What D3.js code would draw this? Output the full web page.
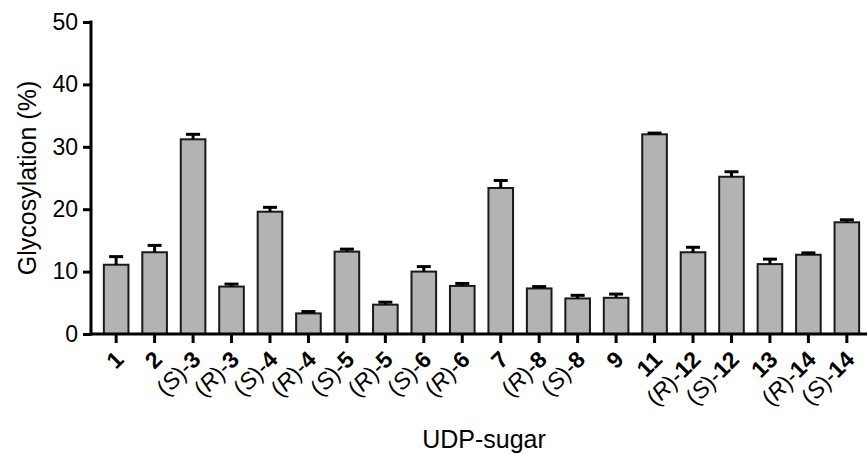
<!DOCTYPE html>
<html>
<head>
<meta charset="utf-8">
<script src="https://cdn.jsdelivr.net/npm/d3@7"></script>
<style>
  body { margin: 0; background: #fff; }
  svg { display: block; font-family: "Liberation Sans", Arial, sans-serif; }
</style>
</head>
<body>
<svg id="chart"></svg>
<script>
// compound label parts: prefix stereo descriptor (or none) + compound number
const stereo = ['', '', 'S', 'R', 'S', 'R', 'S', 'R', 'S', 'R', '', 'R', 'S', '', '', 'R', 'S', '', 'R', 'S'];
const compound = ['1', '2', '3', '3', '4', '4', '5', '5', '6', '6', '7', '8', '8', '9', '11', '12', '12', '13', '14', '14'];
const glycosylation = [11.1, 13.1, 31.2, 7.6, 19.6, 3.3, 13.2, 4.7, 10.0, 7.7, 23.4, 7.3, 5.7, 5.8, 32.0, 13.1, 25.2, 11.2, 12.7, 17.9];
const errorUp = [1.3, 1.1, 0.8, 0.4, 0.7, 0.3, 0.4, 0.4, 0.8, 0.4, 1.2, 0.3, 0.5, 0.6, 0.2, 0.8, 0.8, 0.8, 0.3, 0.4];
const yTicks = [0, 10, 20, 30, 40, 50];

const width = 867;
const height = 454;
const margin = { top: 22, right: 0, bottom: 120, left: 91 };
const baseY = 334;

const data = compound.map((c, i) => ({
  key: i,
  stereo: stereo[i],
  num: c,
  value: glycosylation[i],
  err: errorUp[i],
}));

const svg = d3.select('#chart')
  .attr('width', width)
  .attr('height', height);

const x = d3.scaleBand()
  .domain(data.map(d => d.key))
  .range([margin.left - 1, 873])
  .paddingInner(0.36)
  .paddingOuter(0.36);

const y = d3.scaleLinear()
  .domain([0, 50])
  .range([baseY, margin.top]);

// bars
svg.append('g').selectAll('rect')
  .data(data)
  .enter().append('rect')
  .attr('x', d => x(d.key))
  .attr('y', d => y(d.value))
  .attr('width', x.bandwidth())
  .attr('height', d => y(0) - y(d.value))
  .attr('fill', '#b3b3b3')
  .attr('stroke', '#1a1a1a')
  .attr('stroke-width', 2);

// error bars (upper only)
const err = svg.append('g')
  .attr('stroke', '#000')
  .attr('stroke-width', 3);
err.selectAll('.stem')
  .data(data)
  .enter().append('line')
  .attr('class', 'stem')
  .attr('x1', d => x(d.key) + x.bandwidth() / 2)
  .attr('x2', d => x(d.key) + x.bandwidth() / 2)
  .attr('y1', d => y(d.value))
  .attr('y2', d => y(d.value + d.err));
err.selectAll('.cap')
  .data(data)
  .enter().append('line')
  .attr('class', 'cap')
  .attr('x1', d => x(d.key) + x.bandwidth() / 2 - 7)
  .attr('x2', d => x(d.key) + x.bandwidth() / 2 + 7)
  .attr('y1', d => y(d.value + d.err))
  .attr('y2', d => y(d.value + d.err));

// y axis
const yAxis = d3.axisLeft(y)
  .tickValues(yTicks)
  .tickSize(8)
  .tickPadding(5);
const gy = svg.append('g')
  .attr('transform', `translate(${margin.left},0)`)
  .call(yAxis);
gy.select('.domain')
  .attr('d', `M0,${y(50) - 1.5}V${baseY + 1.5}`)
  .attr('stroke-width', 3);
gy.selectAll('.tick line').attr('stroke-width', 3);
gy.selectAll('.tick text')
  .attr('font-size', 23)
  .attr('font-family', '"Liberation Sans", Arial, sans-serif')
  .attr('fill', '#000');

// x axis
const xAxis = d3.axisBottom(x)
  .tickSize(9)
  .tickFormat('');
const gx = svg.append('g')
  .attr('transform', `translate(0,${baseY})`)
  .call(xAxis);
gx.select('.domain')
  .attr('d', `M${margin.left - 1.5},0H${width}`)
  .attr('stroke-width', 3);
gx.selectAll('.tick line').attr('stroke-width', 3);

// rotated category labels
const labels = gx.selectAll('.tick')
  .append('text')
  .attr('text-anchor', 'end')
  .attr('fill', '#000')
  .attr('font-size', 23)
  .attr('transform', 'translate(9,27) rotate(-45)');
labels.each(function (k) {
  const d = data[k];
  const t = d3.select(this);
  if (d.stereo) {
    t.append('tspan').text('(');
    t.append('tspan').attr('font-style', 'italic').text(d.stereo);
    t.append('tspan').text(')-');
  }
  t.append('tspan').attr('font-weight', 'bold').text(d.num);
});

// axis titles
svg.append('text')
  .attr('transform', `translate(36,${(y(0) + y(50)) / 2}) rotate(-90)`)
  .attr('text-anchor', 'middle')
  .attr('font-size', 25)
  .text('Glycosylation (%)');

svg.append('text')
  .attr('x', 484)
  .attr('y', 448)
  .attr('text-anchor', 'middle')
  .attr('font-size', 25)
  .text('UDP-sugar');
</script>
</body>
</html>
